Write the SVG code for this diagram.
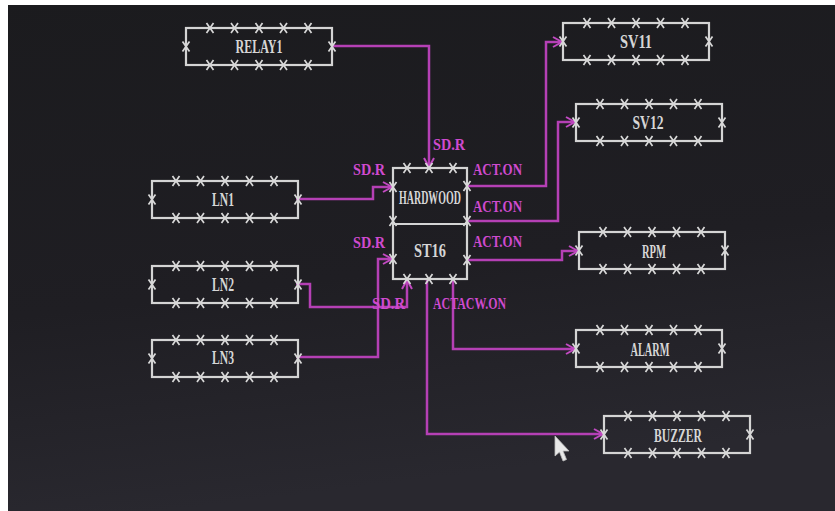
<svg xmlns="http://www.w3.org/2000/svg" xmlns:xlink="http://www.w3.org/1999/xlink" width="835" height="511" viewBox="0 0 835 511">
<style>
.bx{fill:none;stroke:#d4d4d4;stroke-width:2.2}
.xm{stroke:#d8d8d8;stroke-width:1.7;fill:none}
.t{font-family:"Liberation Serif","DejaVu Serif",serif;font-weight:bold;font-size:19px;fill:#d6d6d6;text-anchor:middle}
.m{font-family:"Liberation Serif","DejaVu Serif",serif;font-weight:bold;font-size:16px;fill:#cf4acf}
.c{fill:none;stroke:#b540b5;stroke-width:2.5;marker-end:url(#ah)}
</style>
<defs>
<linearGradient id="bg" x1="0" y1="0" x2="0.2" y2="1">
<stop offset="0" stop-color="#1b1b1e"/>
<stop offset="0.6" stop-color="#1f1e23"/>
<stop offset="1" stop-color="#29282f"/>
</linearGradient>
<path id="x" class="xm" d="M-3.5,-5 L3.5,5 M-3.5,5 L3.5,-5"/>
<g id="box">
<rect class="bx" x="0" y="0" width="146" height="37"/>
<use href="#x" x="24" y="0"/><use href="#x" x="48.5" y="0"/><use href="#x" x="73" y="0"/><use href="#x" x="97.5" y="0"/><use href="#x" x="122" y="0"/>
<use href="#x" x="24" y="37"/><use href="#x" x="48.5" y="37"/><use href="#x" x="73" y="37"/><use href="#x" x="97.5" y="37"/><use href="#x" x="122" y="37"/>
<use href="#x" x="0" y="18.5"/><use href="#x" x="146" y="18.5"/>
</g>
<marker id="ah" markerUnits="userSpaceOnUse" markerWidth="12" markerHeight="12" refX="10" refY="5" orient="auto" viewBox="0 0 12 10">
<path d="M1,0 L10,5 L1,10" fill="none" stroke="#c24ac2" stroke-width="2"/>
</marker>
</defs>
<rect width="835" height="511" fill="url(#bg)"/>
<rect x="0" y="0" width="835" height="5" fill="#ffffff"/>
<rect x="0" y="0" width="8" height="511" fill="#ffffff"/>

<g id="connectors">
<path class="c" d="M331,46 H429 V167"/>
<path class="c" d="M296,199 H373 V187 H392"/>
<path class="c" d="M296,284 H310 V307 H407 V280"/>
<path class="c" d="M296,357 H378 V259 H392"/>
<path class="c" d="M467,186 H546 V42 H562"/>
<path class="c" d="M467,221 H558 V122 H575"/>
<path class="c" d="M467,260 H562 V251 H578"/>
<path class="c" d="M453,279 V349 H575"/>
<path class="c" d="M427,279 V434 H603"/>
</g>

<g id="labels">
<text class="m" x="433" y="150" textLength="32" lengthAdjust="spacingAndGlyphs">SD.R</text>
<text class="m" x="353" y="175" textLength="32" lengthAdjust="spacingAndGlyphs">SD.R</text>
<text class="m" x="353" y="248" textLength="32" lengthAdjust="spacingAndGlyphs">SD.R</text>
<text class="m" x="372" y="309" textLength="33" lengthAdjust="spacingAndGlyphs">SD.R</text>
<text class="m" x="473" y="175" textLength="49" lengthAdjust="spacingAndGlyphs">ACT.ON</text>
<text class="m" x="473" y="212" textLength="49" lengthAdjust="spacingAndGlyphs">ACT.ON</text>
<text class="m" x="473" y="247" textLength="49" lengthAdjust="spacingAndGlyphs">ACT.ON</text>
<text class="m" x="433" y="309" textLength="73" lengthAdjust="spacingAndGlyphs">ACTACW.ON</text>
</g>

<g id="relay1"><use href="#box" x="186" y="28"/><text class="t" x="259" y="53" textLength="47" lengthAdjust="spacingAndGlyphs">RELAY1</text></g>
<g id="sv11"><use href="#box" x="563" y="23"/><text class="t" x="636" y="48" textLength="32" lengthAdjust="spacingAndGlyphs">SV11</text></g>
<g id="sv12"><use href="#box" x="576" y="104"/><text class="t" x="648" y="129" textLength="31" lengthAdjust="spacingAndGlyphs">SV12</text></g>
<g id="ln1"><use href="#box" x="152" y="181"/><text class="t" x="223" y="206" textLength="22" lengthAdjust="spacingAndGlyphs">LN1</text></g>
<g id="ln2"><use href="#box" x="152" y="266"/><text class="t" x="223" y="291" textLength="22" lengthAdjust="spacingAndGlyphs">LN2</text></g>
<g id="ln3"><use href="#box" x="152" y="340"/><text class="t" x="223" y="364" textLength="22" lengthAdjust="spacingAndGlyphs">LN3</text></g>
<g id="rpm"><use href="#box" x="579" y="232"/><text class="t" x="654" y="258" textLength="24" lengthAdjust="spacingAndGlyphs">RPM</text></g>
<g id="alarm"><use href="#box" x="576" y="330"/><text class="t" x="650" y="356" textLength="39" lengthAdjust="spacingAndGlyphs">ALARM</text></g>
<g id="buzzer"><use href="#box" x="604" y="416"/><text class="t" x="678" y="442" textLength="48" lengthAdjust="spacingAndGlyphs">BUZZER</text></g>

<g id="hardwood-st16">
<rect class="bx" x="393" y="168" width="74" height="111"/>
<line class="bx" x1="393" y1="224" x2="467" y2="224"/>
<use href="#x" x="407" y="168"/><use href="#x" x="429" y="168"/><use href="#x" x="453" y="168"/>
<use href="#x" x="407" y="279"/><use href="#x" x="429" y="279"/><use href="#x" x="453" y="279"/>
<use href="#x" x="393" y="187"/><use href="#x" x="393" y="221"/><use href="#x" x="393" y="259"/>
<use href="#x" x="467" y="186"/><use href="#x" x="467" y="221"/><use href="#x" x="467" y="260"/>
<text class="t" transform="translate(430,204) scale(0.6,1)" x="0" y="0" textLength="103" lengthAdjust="spacingAndGlyphs">HARDWOOD</text>
<text class="t" x="430" y="257" textLength="32" lengthAdjust="spacingAndGlyphs">ST16</text>
</g>

<path d="M555,436 L555,456 L559.5,452 L563,461 L566.5,459.5 L563,451 L569,451 Z" fill="#e8e8e8" stroke="#bbbbbb" stroke-width="0.8"/>
</svg>
